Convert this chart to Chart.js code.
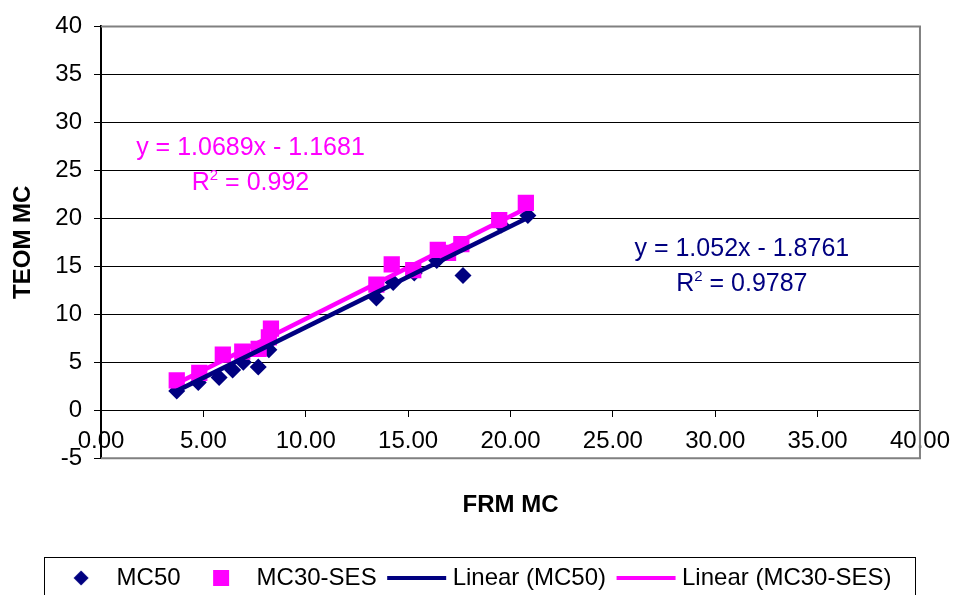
<!DOCTYPE html>
<html>
<head>
<meta charset="utf-8">
<script src="https://cdn.jsdelivr.net/npm/chart.js@4.4.1/dist/chart.umd.min.js"></script>
<style>
  html, body { margin: 0; padding: 0; background: #fff; overflow: hidden; }
  #wrap { position: relative; width: 961px; height: 610px; }
</style>
</head>
<body>
<div id="wrap"><canvas id="teomChart"></canvas></div>
<script>
// FRM vs TEOM mass concentration
const mc50X = [3.7, 4.75, 5.77, 6.43, 6.95, 7.68, 8.2, 13.45, 14.27, 15.3, 16.4, 17.68, 19.55, 20.85];
const mc50Y = [2.0, 2.9, 3.4, 4.2, 5.0, 4.5, 6.3, 11.7, 13.3, 14.3, 15.6, 14.05, 19.3, 20.3];

const mc30X = [3.7, 4.8, 5.95, 6.9, 7.7, 8.2, 8.3, 13.45, 14.2, 15.25, 16.45, 16.95, 17.6, 19.45, 20.75];
const mc30Y = [3.1, 3.9, 5.8, 6.1, 6.4, 7.6, 8.5, 13.1, 15.2, 14.6, 16.7, 16.4, 17.3, 19.8, 21.6];

// trendline coefficients as printed on the chart: [slope, intercept, R2]
const mc50Fit = [1.052, -1.8761, 0.9787];
const mc30Fit = [1.0689, -1.1681, 0.992];

const seriesNames = ['MC50', 'MC30-SES', 'Linear (MC50)', 'Linear (MC30-SES)'];
const xTickValues = [0, 5, 10, 15, 20, 25, 30, 35, 40];
const yTickValues = [-5, 0, 5, 10, 15, 20, 25, 30, 35, 40];

const NAVY = '#000080';
const MAGENTA = '#FF00FF';
const FONT = '"Liberation Sans", Arial, sans-serif';

Chart.defaults.font.family = FONT;
Chart.defaults.color = '#000';

function toPoints(xs, ys) {
    return xs.map((x, i) => ({ x: x, y: ys[i] }));
}

function fitLine(xs, fit) {
    const lo = Math.min(...xs), hi = Math.max(...xs);
    return [lo, hi].map(x => ({ x: x, y: fit[0] * x + fit[1] }));
}

// legend icons, the mark sits a bit left of the box centre like the original
function legendIcon(kind, color) {
    const c = document.createElement('canvas');
    c.width = 80; c.height = 20;
    const g = c.getContext('2d');
    g.fillStyle = color;
    g.strokeStyle = color;
    if (kind === 'diamond') {
        const cx = 34;
        g.beginPath();
        g.moveTo(cx - 7.5, 10); g.lineTo(cx, 2.5); g.lineTo(cx + 7.5, 10); g.lineTo(cx, 17.5);
        g.closePath();
        g.fill();
    } else if (kind === 'square') {
        g.fillRect(34 - 8, 2, 16, 16);
    } else {
        g.lineWidth = 4;
        g.beginPath();
        g.moveTo(4, 10); g.lineTo(63, 10);
        g.stroke();
    }
    return c;
}

const legendIcons = [
    legendIcon('diamond', NAVY),
    legendIcon('square', MAGENTA),
    legendIcon('line', NAVY),
    legendIcon('line', MAGENTA)
];

function drawFitLabel(chart, fit, color, cx, yLine1, yLine2) {
    const ctx = chart.ctx;
    const px = chart.scales.x.getPixelForValue(cx);
    const big = '25px ' + FONT, small = '15px ' + FONT;
    ctx.save();
    ctx.fillStyle = color;
    ctx.textBaseline = 'alphabetic';
    ctx.font = big;
    ctx.textAlign = 'center';
    const sign = fit[1] < 0 ? ' - ' : ' + ';
    ctx.fillText('y = ' + fit[0] + 'x' + sign + Math.abs(fit[1]), px, chart.scales.y.getPixelForValue(yLine1));

    const rest = ' = ' + fit[2];
    ctx.textAlign = 'left';
    const wR = ctx.measureText('R').width;
    const wRest = ctx.measureText(rest).width;
    ctx.font = small;
    const w2 = ctx.measureText('2').width;
    let x = px - (wR + w2 + wRest) / 2;
    const by = chart.scales.y.getPixelForValue(yLine2);
    ctx.font = big; ctx.fillText('R', x, by); x += wR;
    ctx.font = small; ctx.fillText('2', x, by - 10); x += w2;
    ctx.font = big; ctx.fillText(rest, x, by);
    ctx.restore();
}

const framePlugin = {
    id: 'frame',
    beforeDatasetsDraw(chart) {
        const { ctx, chartArea: a } = chart;
        ctx.save();
        ctx.strokeStyle = '#808080';
        ctx.lineWidth = 2;
        ctx.beginPath();
        ctx.moveTo(a.left, a.top);
        ctx.lineTo(a.right, a.top);
        ctx.lineTo(a.right, a.bottom);
        ctx.lineTo(a.left, a.bottom);
        ctx.stroke();
        ctx.restore();
    },
    afterDatasetsDraw(chart) {
        drawFitLabel(chart, mc30Fit, MAGENTA, 7.3, 26.55, 23.0);
        drawFitLabel(chart, mc50Fit, NAVY, 31.3, 16.1, 12.4);
    },
    afterDraw(chart) {
        const ctx = chart.ctx;
        ctx.save();
        ctx.strokeStyle = '#000';
        ctx.lineWidth = 1;
        ctx.strokeRect(44.5, 557.5, 871, 100);
        ctx.restore();
    }
};

const ctx = document.getElementById('teomChart');
new Chart(ctx, {
    type: 'scatter',
    data: {
        datasets: [
            {
                label: seriesNames[0],
                data: toPoints(mc50X, mc50Y),
                pointStyle: 'rectRot',
                pointRadius: 8.5,
                pointHoverRadius: 8.5,
                backgroundColor: NAVY,
                borderColor: NAVY,
                borderWidth: 0,
                order: 3
            },
            {
                label: seriesNames[1],
                data: toPoints(mc30X, mc30Y),
                pointStyle: 'rect',
                pointRadius: 11.5,
                pointHoverRadius: 11.5,
                backgroundColor: MAGENTA,
                borderColor: MAGENTA,
                borderWidth: 0,
                order: 2
            },
            {
                label: seriesNames[2],
                data: fitLine(mc50X, mc50Fit),
                showLine: true,
                pointRadius: 0,
                borderColor: NAVY,
                backgroundColor: NAVY,
                borderWidth: 4.5,
                order: 1
            },
            {
                label: seriesNames[3],
                data: fitLine(mc30X, mc30Fit),
                showLine: true,
                pointRadius: 0,
                borderColor: MAGENTA,
                backgroundColor: MAGENTA,
                borderWidth: 4.5,
                order: 0
            }
        ]
    },
    options: {
        responsive: true,
        maintainAspectRatio: false,
        animation: false,
        layout: { padding: { left: 0, right: 0, top: 23, bottom: 10 } },
        scales: {
            x: {
                type: 'linear',
                position: { y: 0 },
                min: 0,
                max: 40,
                afterBuildTicks: s => { s.ticks = xTickValues.map(v => ({ value: v })); },
                ticks: {
                    callback: v => Number(v).toFixed(2),
                    color: '#000',
                    font: { size: 24 },
                    padding: 11,
                    maxRotation: 0,
                    autoSkip: false
                },
                grid: { drawOnChartArea: false, tickLength: 6, color: '#000', lineWidth: 1 },
                border: { color: '#000', width: 1 }
            },
            y: {
                position: 'left',
                min: -5,
                max: 40,
                afterBuildTicks: s => { s.ticks = yTickValues.map(v => ({ value: v })); },
                ticks: { color: '#000', font: { size: 24 }, padding: 12 },
                grid: {
                    color: c => (c.tick && (c.tick.value === 40 || c.tick.value === -5)) ? 'rgba(0,0,0,0)' : '#000',
                    tickColor: '#000',
                    tickLength: 7,
                    lineWidth: 1
                },
                border: { color: '#000', width: 2 },
                title: {
                    display: true,
                    text: 'TEOM MC',
                    color: '#000',
                    font: { size: 24, weight: 'bold' },
                    padding: { top: 9, bottom: 0 }
                },
                afterFit: s => { s.width = 101; }
            },
            yRight: {
                position: 'right',
                min: -5,
                max: 40,
                grid: { display: false },
                border: { display: false },
                ticks: { display: false },
                afterFit: s => { s.width = 40.5; }
            }
        },
        plugins: {
            tooltip: { enabled: false },
            title: {
                display: true,
                text: 'FRM MC',
                position: 'bottom',
                fullSize: false,
                weight: 500,
                color: '#000',
                font: { size: 24, weight: 'bold' },
                padding: { top: 33, bottom: 17 }
            },
            legend: {
                position: 'bottom',
                align: 'center',
                labels: {
                    usePointStyle: true,
                    pointStyleWidth: 35,
                    padding: 29,
                    color: '#000',
                    font: { size: 24 },
                    generateLabels: chart => chart.data.datasets.map((ds, i) => ({
                        text: ds.label,
                        pointStyle: legendIcons[i],
                        fillStyle: ds.backgroundColor,
                        strokeStyle: ds.borderColor,
                        lineWidth: 0,
                        hidden: false,
                        fontColor: '#000',
                        datasetIndex: i
                    }))
                }
            }
        }
    },
    plugins: [framePlugin]
});
</script>
</body>
</html>
